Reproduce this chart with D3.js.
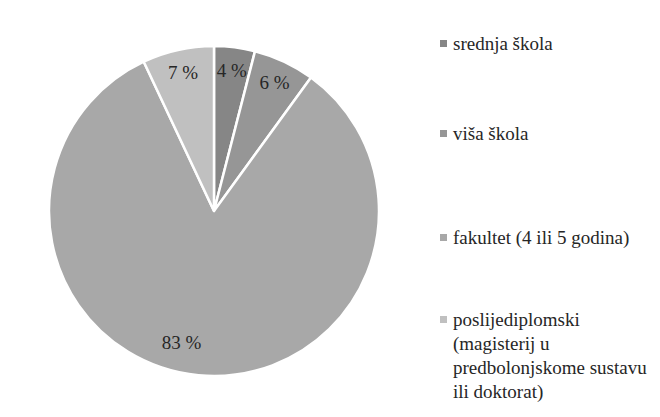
<!DOCTYPE html>
<html>
<head>
<meta charset="utf-8">
<script src="https://cdn.jsdelivr.net/npm/d3@7/dist/d3.min.js"></script>
<style>
  html, body { margin: 0; padding: 0; background: #fff; }
  svg { display: block; }
</style>
</head>
<body>
<svg id="chart" width="660" height="417"></svg>
<script>
// Education level shares (percent)
const categories = [
  "srednja škola",
  "viša škola",
  "fakultet (4 ili 5 godina)",
  "poslijediplomski (magisterij u predbolonjskome sustavu ili doktorat)"
];
const values = [4, 6, 83, 7];
const sliceColors = ["#868686", "#969696", "#a8a8a8", "#c0c0c0"];
// Legend text split into lines
const legendLines = [
  ["srednja škola"],
  ["viša škola"],
  ["fakultet (4 ili 5 godina)"],
  ["poslijediplomski", "(magisterij u", "predbolonjskome sustavu", "ili doktorat)"]
];

const FONT = "Liberation Serif";
const TEXT_COLOR = "#262626";

const svg = d3.select("#chart");
const cx = 214, cy = 211, r = 165;

const pie = d3.pie().value(d => d).sort(null);
const arcs = pie(values);
const arc = d3.arc().innerRadius(0).outerRadius(r);
const labelArc = d3.arc().innerRadius(r * 0.86).outerRadius(r * 0.86);
const bigLabelArc = d3.arc().innerRadius(r * 0.8).outerRadius(r * 0.8);

const color = d3.scaleOrdinal().domain(d3.range(categories.length)).range(sliceColors);

const g = svg.append("g").attr("transform", `translate(${cx},${cy})`);

g.selectAll("path.slice")
  .data(arcs)
  .join("path")
  .attr("class", "slice")
  .attr("d", arc)
  .attr("fill", (d, i) => color(i))
  .attr("stroke", "#ffffff")
  .attr("stroke-width", 2.5)
  .attr("stroke-linejoin", "round");

g.selectAll("text.lbl")
  .data(arcs)
  .join("text")
  .attr("class", "lbl")
  .attr("transform", d => {
    let [x, y] = labelArc.centroid(d);
    // the large slice carries its label a little further in
    if (d.data > 50) { [x, y] = bigLabelArc.centroid(d); x -= 20; }
    return `translate(${x},${y})`;
  })
  .attr("text-anchor", "middle")
  .attr("dy", "0.35em")
  .style("font-family", FONT)
  .attr("font-size", 19)
  .attr("fill", TEXT_COLOR)
  .text(d => d.data + " %");

// Legend
const legendY = [43, 133, 237, 319];
const lg = svg.append("g").attr("transform", "translate(440,0)");
const items = lg.selectAll("g.item")
  .data(categories)
  .join("g")
  .attr("class", "item")
  .attr("transform", (d, i) => `translate(0,${legendY[i]})`);

items.append("rect")
  .attr("x", 0).attr("y", -3)
  .attr("width", 7).attr("height", 7)
  .attr("fill", (d, i) => color(i));

items.each(function (d, i) {
  const t = d3.select(this).append("text")
    .attr("y", 0)
    .style("font-family", FONT)
    .attr("font-size", 19)
    .attr("fill", TEXT_COLOR);
  t.selectAll("tspan")
    .data(legendLines[i])
    .join("tspan")
    .attr("x", 13)
    .attr("dy", (s, j) => j === 0 ? "0.35em" : 24)
    .text(s => s);
});
</script>
</body>
</html>
